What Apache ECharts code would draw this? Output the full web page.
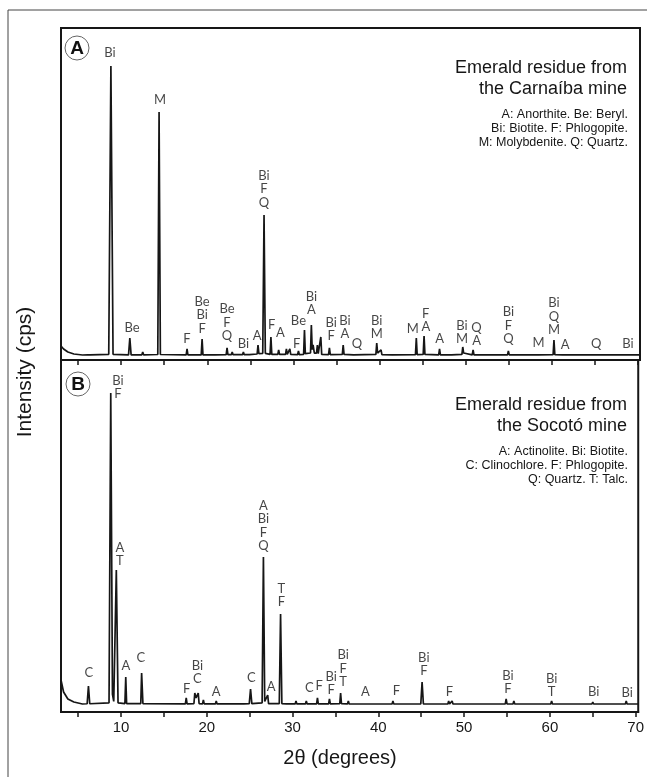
<!DOCTYPE html>
<html>
<head>
<meta charset="utf-8">
<title>XRD patterns of emerald residues</title>
<script src="https://cdn.jsdelivr.net/npm/echarts@6.0.0/dist/echarts.min.js"></script>
<style>
  html, body { margin: 0; padding: 0; background: #fff; }
  #chart { width: 647px; height: 777px; }
</style>
</head>
<body>
<div id="chart"></div>
<script>
// 2θ axis ticks and labels
const tickValues = [5, 10, 15, 20, 25, 30, 35, 40, 45, 50, 55, 60, 65, 70];
const labelValues = [10, 20, 30, 40, 50, 60, 70];

// Diffractogram A — Carnaíba mine: [2θ, intensity (cps)]
const carnaibaTrace = [
  [3.0, 422], [3.3, 332], [3.8, 241], [4.5, 181], [5.5, 151], [6.1, 155], [6.25, 185], [6.4, 155],
  [8.55, 170], [8.8, 8855], [9.05, 170],
  [10.85, 155], [11.0, 663], [11.15, 155],
  [12.4, 155], [12.5, 241], [12.6, 155],
  [14.25, 165], [14.4, 7470], [14.55, 165],
  [17.55, 155], [17.65, 332], [17.75, 155],
  [19.3, 155], [19.4, 633], [19.5, 155],
  [20.9, 155], [21.0, 211], [21.1, 155],
  [22.2, 160], [22.3, 362], [22.4, 160], [22.8, 160], [22.9, 241], [23.0, 160],
  [24.1, 160], [24.2, 241], [24.3, 160], [24.9, 160], [25.0, 211], [25.1, 170],
  [25.8, 180], [25.9, 452], [26.0, 190], [26.45, 200], [26.6, 4367], [26.75, 200],
  [27.3, 170], [27.4, 693], [27.5, 170], [28.2, 170], [28.3, 302], [28.4, 170],
  [29.1, 170], [29.2, 332], [29.3, 170], [29.5, 170], [29.6, 332], [29.7, 170],
  [30.5, 160], [30.6, 271], [30.7, 160], [31.2, 170], [31.3, 904], [31.4, 190],
  [32.0, 210], [32.1, 1055], [32.2, 310], [32.3, 452], [32.45, 210], [32.7, 210],
  [32.8, 452], [32.9, 190], [33.1, 180], [33.2, 693], [33.3, 170],
  [34.1, 160], [34.2, 362], [34.3, 160], [35.7, 170], [35.8, 452], [35.9, 170],
  [37.0, 155], [37.1, 211], [37.2, 155], [39.6, 170], [39.7, 512], [39.8, 210],
  [40.2, 302], [40.3, 160], [41.5, 155], [41.6, 211], [41.7, 155],
  [44.2, 160], [44.3, 663], [44.4, 160], [45.1, 170], [45.2, 723], [45.3, 170],
  [46.9, 155], [47.0, 332], [47.1, 155], [48.4, 155], [48.5, 211], [48.6, 155],
  [49.6, 170], [49.7, 392], [49.8, 210], [49.9, 170], [50.8, 155], [50.9, 302], [51.0, 155],
  [52.4, 155], [52.5, 211], [52.6, 155], [53.1, 155], [53.2, 211], [53.3, 155],
  [54.9, 155], [55.0, 271], [55.1, 155], [56.0, 155], [56.1, 181], [56.2, 155],
  [57.4, 155], [57.5, 181], [57.6, 155], [58.5, 155], [58.6, 211], [58.7, 155],
  [60.2, 160], [60.3, 603], [60.4, 160], [61.3, 155], [61.4, 211], [61.5, 155],
  [65.0, 155], [65.1, 181], [65.2, 155], [68.9, 155], [69.0, 211], [69.1, 160], [70.3, 155]
];

// Phase labels A: [2θ, intensity at label base, text]
const carnaibaLabels = [
  [8.7, 9044, 'Bi'], [14.5, 7628, 'M'], [11.26, 759, 'Be'], [17.65, 407, 'F'],
  [19.4, 729, 'Be\nBi\nF'], [22.3, 506, 'Be\nF\nQ'], [24.2, 277, 'Bi'], [25.8, 506, 'A'],
  [26.6, 4525, 'Bi\nF\nQ'], [27.5, 838, 'F'], [28.5, 609, 'A'], [30.4, 256, 'F'],
  [30.6, 958, 'Be'], [32.1, 1290, 'Bi\nA'], [34.4, 506, 'Bi\nF'], [36.0, 558, 'Bi\nA'],
  [37.4, 256, 'Q'], [39.7, 558, 'Bi\nM'], [43.9, 729, 'M'], [45.4, 777, 'F\nA'],
  [47.0, 407, 'A'], [49.6, 407, 'Bi\nM'], [51.3, 356, 'Q\nA'], [55.0, 407, 'Bi\nF\nQ'],
  [58.5, 287, 'M'], [60.3, 687, 'Bi\nQ\nM'], [61.6, 226, 'A'], [65.2, 256, 'Q'], [68.9, 256, 'Bi']
];

// Diffractogram B — Socotó mine: [2θ, intensity (cps)]
const socotoTrace = [
  [3.0, 909], [3.3, 568], [3.8, 369], [4.5, 284], [5.5, 227], [6.05, 235], [6.2, 739], [6.35, 235],
  [8.6, 260], [8.8, 9063], [9.0, 500], [9.15, 300], [9.45, 4034], [9.65, 260],
  [10.45, 240], [10.55, 994], [10.65, 240], [12.3, 240], [12.4, 1108], [12.55, 240],
  [17.5, 230], [17.6, 398], [17.7, 230], [18.5, 240], [18.6, 540], [18.75, 400], [19.0, 540], [19.1, 240],
  [19.5, 230], [19.6, 341], [19.7, 230], [21.0, 230], [21.1, 313], [21.2, 230],
  [24.3, 230], [24.4, 284], [24.5, 235], [24.95, 240], [25.1, 653], [25.25, 240],
  [26.45, 260], [26.6, 4404], [26.75, 300], [27.1, 483], [27.2, 240],
  [28.45, 240], [28.6, 2784], [28.75, 240],
  [29.3, 230], [29.4, 284], [29.5, 230], [30.3, 230], [30.4, 313], [30.5, 230],
  [31.5, 230], [31.6, 313], [31.7, 230], [32.8, 230], [32.9, 398], [33.0, 230],
  [34.2, 230], [34.3, 369], [34.4, 230], [35.5, 235], [35.6, 540], [35.7, 235],
  [36.4, 230], [36.5, 313], [36.6, 230], [38.3, 227], [38.4, 256], [38.5, 227],
  [41.6, 227], [41.7, 313], [41.8, 227], [44.95, 230], [45.1, 852], [45.25, 230],
  [48.1, 227], [48.2, 313], [48.3, 227], [48.5, 227], [48.6, 313], [48.7, 227],
  [54.8, 230], [54.9, 369], [55.0, 230], [55.7, 227], [55.8, 313], [55.9, 227],
  [60.1, 227], [60.2, 313], [60.3, 227], [64.9, 227], [65.0, 284], [65.1, 227],
  [68.8, 227], [68.9, 313], [69.0, 227], [70.3, 227]
];

// Phase labels B: [2θ, intensity at label base, text]
const socotoLabels = [
  [9.65, 8821, 'Bi\nF'], [9.86, 4077, 'A\nT'], [10.56, 1094, 'A'], [12.3, 1321, 'C'],
  [6.26, 895, 'C'], [17.65, 440, 'F'], [18.9, 724, 'Bi\nC'], [21.1, 355, 'A'],
  [25.2, 753, 'C'], [26.6, 4503, 'A\nBi\nF\nQ'], [27.5, 497, 'A'], [28.7, 2912, 'T\nF'],
  [31.95, 469, 'C'], [33.1, 526, 'F'], [34.5, 412, 'Bi\nF'], [35.9, 639, 'Bi\nF\nT'],
  [38.5, 355, 'A'], [42.1, 384, 'F'], [45.3, 952, 'Bi\nF'], [48.3, 355, 'F'],
  [55.1, 440, 'Bi\nF'], [60.2, 355, 'Bi\nT'], [65.1, 355, 'Bi'], [69.0, 327, 'Bi']
];

const INK = '#161616';
const sans = "'Liberation Sans', Arial, sans-serif";
const peakFont = "Lato, 'Open Sans', sans-serif";

function xAxisFor(gridIndex, withLabels) {
  return {
    gridIndex: gridIndex,
    type: 'value',
    min: 3,
    max: 70.3,
    axisLine: { show: true, onZero: false, lineStyle: { color: INK, width: 2 } },
    axisTick: { show: true, customValues: tickValues, length: 5, lineStyle: { color: INK, width: 1.5 } },
    axisLabel: withLabels
      ? { show: true, customValues: labelValues, fontSize: 15, color: INK, fontFamily: sans, margin: 8 }
      : { show: false },
    splitLine: { show: false }
  };
}

function traceSeries(data, idx) {
  return {
    type: 'line',
    xAxisIndex: idx,
    yAxisIndex: idx,
    data: data,
    showSymbol: false,
    symbol: 'none',
    lineStyle: { color: INK, width: 1.7 },
    silent: true,
    z: 3
  };
}

function labelSeries(data, idx) {
  return {
    type: 'scatter',
    xAxisIndex: idx,
    yAxisIndex: idx,
    data: data,
    symbolSize: 1,
    itemStyle: { color: 'rgba(0,0,0,0)' },
    silent: true,
    z: 4,
    label: {
      show: true,
      position: 'top',
      distance: 0,
      formatter: p => p.data[2],
      fontFamily: peakFont,
      fontSize: 13,
      lineHeight: 13.5,
      color: INK,
      align: 'center'
    }
  };
}

function headingBlock(top, mine, legendLines) {
  const items = [
    { type: 'text', x: 627, y: top, style: { text: 'Emerald residue from', font: '18px ' + sans, fill: INK, align: 'right', verticalAlign: 'middle' } },
    { type: 'text', x: 627, y: top + 21, style: { text: mine, font: '18px ' + sans, fill: INK, align: 'right', verticalAlign: 'middle' } }
  ];
  legendLines.forEach((t, i) => {
    items.push({ type: 'text', x: 628, y: top + 47 + i * 14, style: { text: t, font: '12.5px ' + sans, fill: INK, align: 'right', verticalAlign: 'middle' } });
  });
  return items;
}

function circledLetter(cx, cy, letter) {
  return [
    { type: 'circle', shape: { cx: cx, cy: cy, r: 12 }, style: { fill: '#fff', stroke: '#666', lineWidth: 1 }, z: 10 },
    { type: 'text', x: cx, y: cy + 1, style: { text: letter, font: 'bold 19px ' + sans, fill: '#111', align: 'center', verticalAlign: 'middle' }, z: 11 }
  ];
}

const chart = echarts.init(document.getElementById('chart'), null, { renderer: 'canvas' });

const option = {
  animation: false,
  backgroundColor: '#fff',
  grid: [
    { left: 61, right: 7, top: 28, height: 332, show: true, borderColor: INK, borderWidth: 2, backgroundColor: 'transparent' },
    { left: 61, right: 7, top: 360, height: 352, show: true, borderColor: INK, borderWidth: 2, backgroundColor: 'transparent' }
  ],
  xAxis: [xAxisFor(0, false), xAxisFor(1, true)],
  yAxis: [
    { gridIndex: 0, type: 'value', min: 0, max: 10000, show: false },
    { gridIndex: 1, type: 'value', min: 0, max: 10000, show: false }
  ],
  series: [
    traceSeries(carnaibaTrace, 0),
    labelSeries(carnaibaLabels, 0),
    traceSeries(socotoTrace, 1),
    labelSeries(socotoLabels, 1)
  ],
  graphic: [
    { type: 'rect', shape: { x: 8, y: 10, width: 660, height: 800 }, style: { fill: 'none', stroke: '#444', lineWidth: 1 }, silent: true },
    ...circledLetter(77, 48, 'A'),
    ...circledLetter(78, 384, 'B'),
    ...headingBlock(68, 'the Carnaíba mine', ['A: Anorthite. Be: Beryl.', 'Bi: Biotite. F: Phlogopite.', 'M: Molybdenite. Q: Quartz.']),
    ...headingBlock(405, 'the Socotó mine', ['A: Actinolite. Bi: Biotite.', 'C: Clinochlore. F: Phlogopite.', 'Q: Quartz. T: Talc.']),
    { type: 'text', x: 25, y: 372, rotation: Math.PI / 2, style: { text: 'Intensity (cps)', font: '21px ' + sans, fill: INK, align: 'center', verticalAlign: 'middle' } },
    { type: 'text', x: 340, y: 758, style: { text: '2θ (degrees)', font: '20px ' + sans, fill: INK, align: 'center', verticalAlign: 'middle' } }
  ]
};

chart.setOption(option);
</script>
</body>
</html>
